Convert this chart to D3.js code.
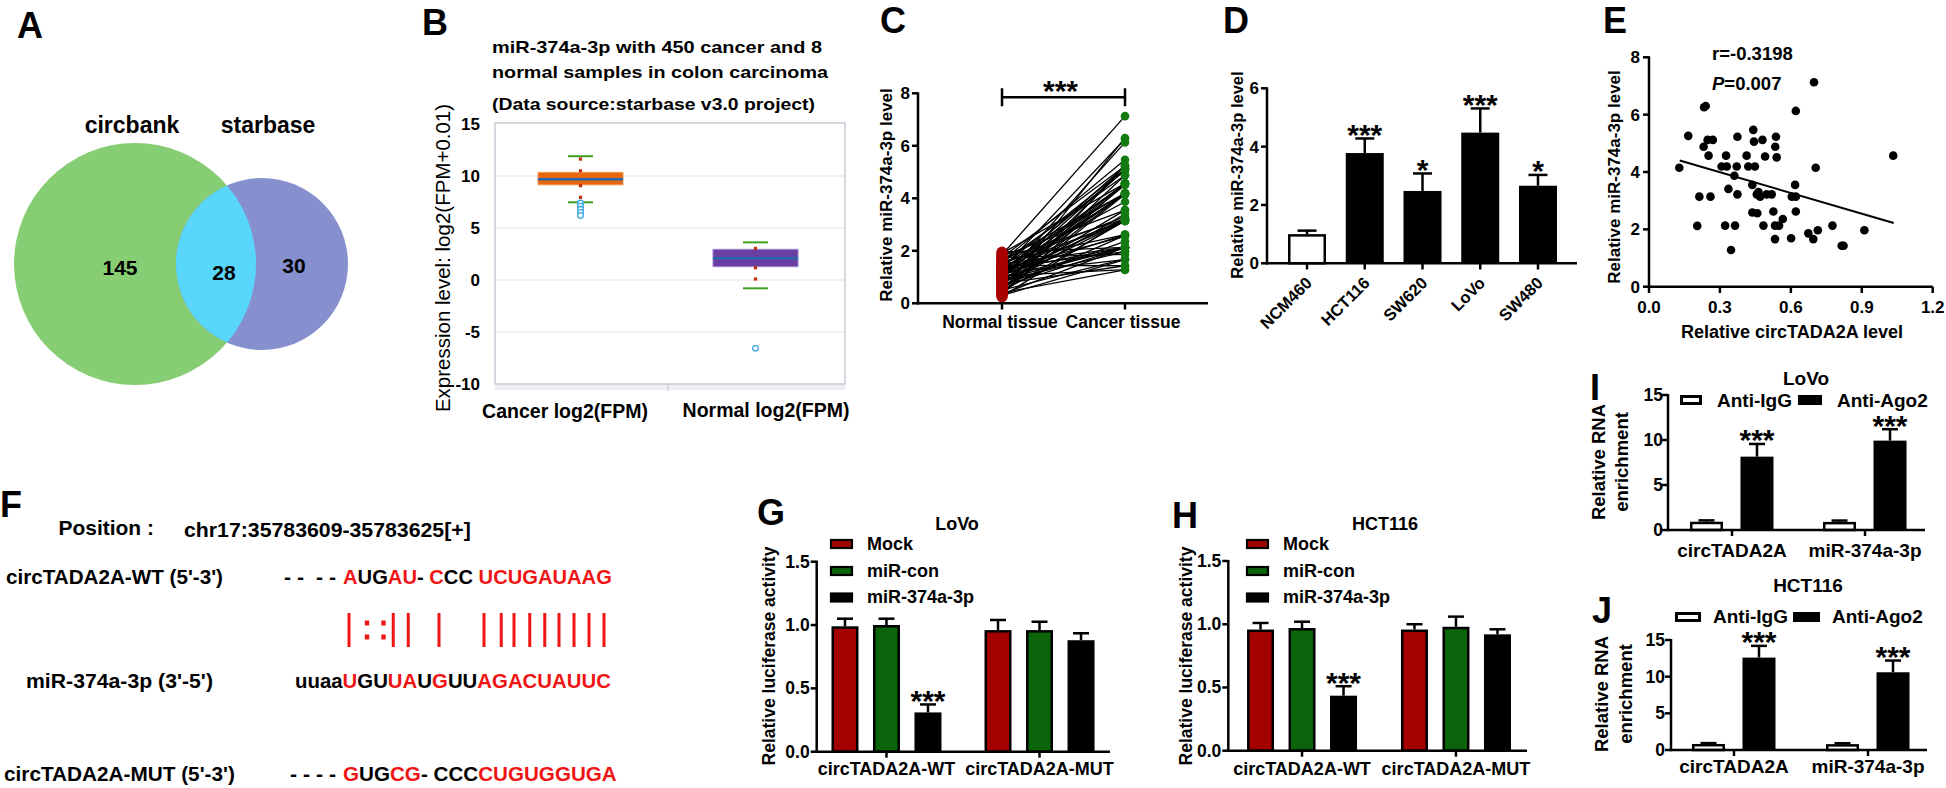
<!DOCTYPE html>
<html><head><meta charset="utf-8">
<script src="https://cdn.jsdelivr.net/npm/d3@7/dist/d3.min.js"></script>
<style>
html,body{margin:0;padding:0;background:#fff;}
svg text{font-family:"Liberation Sans",Arial,Helvetica,sans-serif;}
</style></head><body>
<svg id="fig" width="1946" height="788" xmlns="http://www.w3.org/2000/svg"></svg>
<script>
// ================= DATA =================
// A: Venn diagram
const vennSetNames = ["circbank", "starbase"];
const vennRegionCounts = [145, 28, 30]; // circbank only, overlap, starbase only

// B: starbase box plot
const boxCategories = ["Cancer log2(FPM)", "Normal log2(FPM)"];
const boxQ1 = [9.15, 1.28];
const boxMedian = [9.68, 2.08];
const boxQ3 = [10.35, 2.95];
const boxWhiskerLow = [7.47, -0.8];
const boxWhiskerHigh = [11.9, 3.62];
const boxMarkers = [[11.63, 10.5, 9.07, 7.95], [3.04, 1.18, 0.1]];
const boxOutliers = [[7.4, 7.1, 6.8, 6.5, 6.2], [-6.57]];
const boxYTicks = [15, 10, 5, 0, -5, -10];
const boxTitle = ["miR-374a-3p  with 450 cancer and 8", "normal samples in colon carcinoma", "(Data source:starbase v3.0 project)"];

// C: paired tissue
const tissueCategories = ["Normal tissue", "Cancer tissue"];
const pairedNormal = [1.85,0.45,1.30,0.90,1.60,0.30,1.10,1.75,0.65,1.40,0.95,1.20,0.50,1.55,0.80,1.05,1.90,0.35,1.25,0.70,1.45,1.00,0.55,1.65,0.85,1.15,0.40,1.35,0.75,1.80,0.60,1.50,0.95,1.20,0.25,1.70,1.05,0.45,1.40,0.80,1.10,1.60,0.55,1.30,0.70,1.95,0.90,1.25,0.35,1.50,1.00,0.65,1.35,0.85,1.75,0.50,1.15,0.30,1.45,0.75,1.05,0.40];
const pairedCancer = [7.13,6.30,6.26,6.13,5.47,5.26,5.23,5.23,5.12,5.12,5.12,5.06,4.88,4.88,4.57,4.57,4.57,4.57,4.54,4.51,4.19,4.19,4.19,4.19,4.19,4.15,4.15,3.87,3.55,3.55,3.41,3.30,3.22,3.22,3.22,3.22,3.14,3.14,3.14,3.14,2.62,2.62,2.59,2.56,2.36,2.13,2.13,2.13,2.13,2.13,2.13,2.12,1.97,1.97,1.86,1.69,1.66,1.66,1.43,1.43,1.28,1.27];
const tissueYTicks = [0, 2, 4, 6, 8];
const tissueSigLevel = 7.85;

// D: cell lines
const cellLines = ["NCM460", "HCT116", "SW620", "LoVo", "SW480"];
const cellMeans = [1.0, 3.78, 2.48, 4.48, 2.66];
const cellErr = [0.12, 0.5, 0.6, 0.83, 0.37];
const cellSig = ["", "***", "*", "***", "*"];
const cellYTicks = [0, 2, 4, 6];

// E: correlation
const corrX = [0.128,0.166,0.213,0.204,0.233,0.240,0.231,0.248,0.270,0.252,0.260,0.307,0.326,0.329,0.322,0.336,0.361,0.371,0.374,0.374,0.364,0.347,0.413,0.420,0.441,0.444,0.448,0.437,0.437,0.458,0.480,0.456,0.470,0.463,0.484,0.491,0.498,0.519,0.537,0.534,0.540,0.526,0.533,0.550,0.533,0.566,0.604,0.618,0.621,0.621,0.621,0.601,0.674,0.695,0.714,0.705,0.698,0.776,0.815,0.823,0.911,1.033];
const corrY = [4.15,5.26,3.14,2.12,6.26,6.30,4.88,5.12,5.12,4.57,3.14,4.19,4.57,4.19,2.13,3.41,3.87,4.19,5.23,3.22,2.13,1.28,4.57,4.19,5.47,5.06,4.19,3.55,2.59,2.56,5.12,3.22,3.14,3.30,2.13,4.54,3.22,3.22,5.23,4.88,4.51,2.62,2.13,2.13,1.66,2.36,3.14,3.55,3.14,6.13,2.62,1.69,1.86,1.66,1.97,4.15,7.13,2.13,1.43,1.43,1.97,4.57];
const corrLineX = [0.13, 1.035];
const corrLineY = [4.40, 2.22];
const corrXTicks = [0, 0.3, 0.6, 0.9, 1.2];
const corrYTicks = [0, 2, 4, 6, 8];

// F: sequences
const wtSeq = [["A","r"],["UG","k"],["AU","r"],["- ","k"],["C","r"],["CC","k"],[" UCUGAUAAG","r"]];
const mirSeq = [["uuaa","k"],["U","r"],["GU","k"],["UA","r"],["U","k"],["G","r"],["UU","k"],["AGACUAUUC","r"]];
const mutSeq = [["G","r"],["UG","k"],["CG","r"],["- CCC","k"],["CUGUGGUGA","r"]];
const pairTypes = ["|",":",":","|","|","|","|","|","|","|","|","|","|","|","|"];
const pairSlots = [0,1.2,2.3,2.95,3.95,6,9,10.15,11,12.05,13.05,14,15,16,17];

// G/H: luciferase
const lucGroups = ["circTADA2A-WT", "circTADA2A-MUT"];
const lucSeries = ["Mock", "miR-con", "miR-374a-3p"];
const lucYTicks = [0, 0.5, 1.0, 1.5];
const lovoLuc = [[0.99, 1.0, 0.31], [0.96, 0.96, 0.88]];
const lovoLucErr = [[0.06, 0.05, 0.063], [0.08, 0.066, 0.055]];
const hctLuc = [[0.958, 0.97, 0.435], [0.958, 0.98, 0.92]];
const hctLucErr = [[0.052, 0.05, 0.075], [0.042, 0.08, 0.04]];

// I/J: RIP
const ripGroups = ["circTADA2A", "miR-374a-3p"];
const ripSeries = ["Anti-IgG", "Anti-Ago2"];
const ripYTicks = [0, 5, 10, 15];
const lovoRip = [[0.92, 8.15], [0.9, 9.93]];
const lovoRipErr = [[0.15, 1.41], [0.15, 1.27]];
const hctRip = [[0.82, 12.6], [0.8, 10.6]];
const hctRipErr = [[0.12, 1.6], [0.12, 1.6]];

// ================= DRAWING =================
const svg = d3.select("#fig");
svg.append("rect").attr("width", 1946).attr("height", 788).attr("fill", "#fff");
const RED = "#f01515";
const AX = 2.5;

function T(g, x, y, str, o = {}) {
  const t = g.append("text").attr("x", x).attr("y", y).text(str)
    .attr("font-size", o.size || 17).attr("font-weight", o.weight || "bold")
    .attr("text-anchor", o.anchor || "start").attr("fill", o.fill || "#000");
  if (o.rotate != null) t.attr("transform", `rotate(${o.rotate},${x},${y})`);
  if (o.len) t.attr("textLength", o.len).attr("lengthAdjust", "spacingAndGlyphs");
  return t;
}
function L(g, x1, y1, x2, y2, w = AX, c = "#000") {
  return g.append("line").attr("x1", x1).attr("y1", y1).attr("x2", x2).attr("y2", y2)
    .attr("stroke", c).attr("stroke-width", w);
}
function stars(g, x, yTop, s) {
  if (!s) return;
  T(g, x, yTop + 6.5, s, { size: 30, anchor: "middle" });
}

// panel letters
[["A",17,38],["B",422,35],["C",880,33],["D",1223,33],["E",1603,33],["F",0,517],["G",757,525],["H",1172,528],["I",1590,400],["J",1592,623]]
  .forEach(([s, x, y]) => T(svg, x, y, s, { size: 36 }));

// ---------- A ----------
(function () {
  const g = svg.append("g");
  const c1 = { x: 135, y: 264, r: 121 }, c2 = { x: 262, y: 264, r: 86 };
  g.append("circle").attr("cx", c1.x).attr("cy", c1.y).attr("r", c1.r).attr("fill", "#87cd73");
  g.append("circle").attr("cx", c2.x).attr("cy", c2.y).attr("r", c2.r).attr("fill", "#8790cf");
  svg.append("defs").append("clipPath").attr("id", "clipA").append("circle")
    .attr("cx", c1.x).attr("cy", c1.y).attr("r", c1.r);
  g.append("circle").attr("cx", c2.x).attr("cy", c2.y).attr("r", c2.r).attr("fill", "#59d6fc").attr("clip-path", "url(#clipA)");
  T(g, 132, 133, vennSetNames[0], { size: 23, anchor: "middle" });
  T(g, 268, 133, vennSetNames[1], { size: 23, anchor: "middle" });
  T(g, 120, 275, vennRegionCounts[0], { size: 21, anchor: "middle" });
  T(g, 224, 280, vennRegionCounts[1], { size: 21, anchor: "middle" });
  T(g, 294, 273, vennRegionCounts[2], { size: 21, anchor: "middle" });
})();

// ---------- B ----------
(function () {
  const g = svg.append("g");
  const y = d3.scaleLinear().domain([-10, 15]).range([384, 124]);
  const x = d3.scalePoint().domain(boxCategories).range([495, 845]).padding(0.5);
  g.append("rect").attr("x", 495).attr("y", 384).attr("width", 350).attr("height", 6).attr("fill", "#eceef3");
  boxYTicks.forEach(t => { if (t < 15 && t > -10) L(g, 495, y(t), 845, y(t), 1.2, "#e2e2e2"); });
  g.append("rect").attr("x", 495).attr("y", 123).attr("width", 350).attr("height", 261)
    .attr("fill", "none").attr("stroke", "#c8ccd6").attr("stroke-width", 1.5);
  L(g, 668, 384, 668, 391, 1.2, "#c8ccd6");
  boxYTicks.forEach(t => T(g, 480, y(t) + 6, t, { size: 17, anchor: "end" }));
  const cols = [["#e8660c", "#f39a55"], ["#6b3fa2", "#9d84d4"]];
  boxCategories.forEach((c, i) => {
    const cx = x(c) - 2;
    g.append("rect").attr("x", cx - 42.5).attr("y", y(boxQ3[i])).attr("width", 85)
      .attr("height", y(boxQ1[i]) - y(boxQ3[i])).attr("fill", cols[i][0]).attr("stroke", cols[i][1]).attr("stroke-width", 1);
    L(g, cx - 42.5, y(boxMedian[i]), cx + 42.5, y(boxMedian[i]), 2.5, "#2568b0");
    [boxWhiskerLow[i], boxWhiskerHigh[i]].forEach(v => L(g, cx - 12.5, y(v), cx + 12.5, y(v), 2, "#3f9f20"));
    boxMarkers[i].forEach(v => g.append("rect").attr("x", cx - 1.6).attr("y", y(v) - 1.6).attr("width", 3.2).attr("height", 3.2).attr("fill", "#c0300c"));
    boxOutliers[i].forEach(v => g.append("circle").attr("cx", cx).attr("cy", y(v)).attr("r", 2.8)
      .attr("fill", "#fff").attr("stroke", "#3aa6e2").attr("stroke-width", 1.3));
  });
  T(g, 565, 418, boxCategories[0], { size: 19.5, anchor: "middle" });
  T(g, 766, 417, boxCategories[1], { size: 19.5, anchor: "middle" });
  const tl = [330, 336, 323], ty = [53, 78, 110];
  boxTitle.forEach((s, i) => T(g, 492, ty[i], s, { size: 17, len: tl[i] }));
  T(g, 450, 258, "Expression level: log2(FPM+0.01)", { size: 20.5, weight: "normal", anchor: "middle", rotate: -90 });
})();

// ---------- C ----------
(function () {
  const g = svg.append("g");
  const y = d3.scaleLinear().domain([0, 8]).range([303.3, 93.3]);
  const x = d3.scalePoint().domain(tissueCategories).range([918, 1209]).padding(0.683);
  pairedNormal.forEach((v, i) => L(g, x(tissueCategories[0]), y(v), x(tissueCategories[1]), y(pairedCancer[i]), 1.3));
  pairedNormal.forEach(v => g.append("circle").attr("cx", x(tissueCategories[0])).attr("cy", y(v)).attr("r", 5.6).attr("fill", "#a80000"));
  pairedCancer.forEach(v => g.append("circle").attr("cx", x(tissueCategories[1])).attr("cy", y(v)).attr("r", 4.3).attr("fill", "#137a13"));
  L(g, 918, y(8) - 1, 918, 303.3 + 1.25);
  L(g, 918, 303.3, 1208, 303.3);
  tissueYTicks.forEach(t => { L(g, 912, y(t), 918, y(t)); T(g, 910, y(t) + 6, t, { size: 17, anchor: "end" }); });
  tissueCategories.forEach(c => { L(g, x(c), 303.3, x(c), 309.5); T(g, x(c) - 2, 328, c, { size: 17.5, anchor: "middle" }); });
  const yb = y(tissueSigLevel);
  L(g, x(tissueCategories[0]), yb, x(tissueCategories[1]), yb);
  L(g, x(tissueCategories[0]), yb - 9, x(tissueCategories[0]), yb + 9);
  L(g, x(tissueCategories[1]), yb - 9, x(tissueCategories[1]), yb + 9);
  T(g, (x(tissueCategories[0]) + x(tissueCategories[1])) / 2 - 3, yb + 4, "***", { size: 30, anchor: "middle" });
  T(g, 892, 195, "Relative miR-374a-3p level", { size: 17, anchor: "middle", rotate: -90 });
})();

// ---------- D ----------
(function () {
  const g = svg.append("g");
  const y = d3.scaleLinear().domain([0, 6]).range([263.3, 88.3]);
  const x = d3.scalePoint().domain(cellLines).range([1267, 1578]).padding(0.693);
  const bw = 38;
  cellLines.forEach((c, i) => {
    const cx = x(c), top = y(cellMeans[i]), et = y(cellMeans[i] + cellErr[i]);
    L(g, cx, top, cx, et);
    L(g, cx - 9.5, et, cx + 9.5, et);
    if (i === 0) g.append("rect").attr("x", cx - bw / 2 + 1.25).attr("y", top + 1.25).attr("width", bw - 2.5).attr("height", 263.3 - top - 1.25)
      .attr("fill", "#fff").attr("stroke", "#000").attr("stroke-width", 2.5);
    else g.append("rect").attr("x", cx - bw / 2).attr("y", top).attr("width", bw).attr("height", 263.3 - top).attr("fill", "#000");
    stars(g, cx, et, cellSig[i]);
  });
  L(g, 1267, y(6) - 1, 1267, 263.3 + 1.25);
  L(g, 1267, 263.3, 1577, 263.3);
  cellYTicks.forEach(t => { L(g, 1261, y(t), 1267, y(t)); T(g, 1259, y(t) + 6, t, { size: 17, anchor: "end" }); });
  cellLines.forEach(c => { L(g, x(c), 263.3, x(c), 269.5); T(g, x(c) + 6, 284, c, { size: 16.5, anchor: "end", rotate: -45 }); });
  T(g, 1243, 175, "Relative miR-374a-3p level", { size: 16.5, anchor: "middle", rotate: -90 });
})();

// ---------- E ----------
(function () {
  const g = svg.append("g");
  const x = d3.scaleLinear().domain([0, 1.2]).range([1649, 1932.7]);
  const y = d3.scaleLinear().domain([0, 8]).range([286.7, 57.3]);
  corrX.forEach((v, i) => g.append("circle").attr("cx", x(v)).attr("cy", y(corrY[i])).attr("r", 4.3).attr("fill", "#000"));
  L(g, x(corrLineX[0]), y(corrLineY[0]), x(corrLineX[1]), y(corrLineY[1]), 2);
  L(g, 1649, y(8) - 1, 1649, 286.7 + 1.25);
  L(g, 1649 - 1.25, 286.7, 1932.7, 286.7);
  corrYTicks.forEach(t => { L(g, 1643, y(t), 1649, y(t)); T(g, 1640, y(t) + 6, t, { size: 17, anchor: "end" }); });
  corrXTicks.forEach(t => { L(g, x(t), 286.7, x(t), 293); T(g, x(t), 313, d3.format(".1f")(t), { size: 17, anchor: "middle" }); });
  T(g, 1712, 60, "r=-0.3198", { size: 18.5 });
  const p = T(g, 1712, 90, "", { size: 18.5 });
  p.append("tspan").attr("font-style", "italic").text("P");
  p.append("tspan").text("=0.007");
  T(g, 1792, 338, "Relative circTADA2A level", { size: 18, anchor: "middle" });
  T(g, 1620, 177, "Relative miR-374a-3p level", { size: 17, anchor: "middle", rotate: -90 });
})();

// ---------- F ----------
(function () {
  const g = svg.append("g");
  function row(segs, x0, x1, y, size) {
    const gg = g.append("g");
    const t = gg.append("text").attr("font-size", size).attr("font-weight", "bold").style("white-space", "pre");
    segs.forEach(([s, c]) => t.append("tspan").text(s).attr("fill", c === "r" ? RED : "#000"));
    const len = t.node().getComputedTextLength();
    gg.attr("transform", `translate(${x0},${y}) scale(${(x1 - x0) / len},1)`);
  }
  const fs = 21;
  row([["Position :", "k"]], 58.5, 154, 535, fs);
  row([["chr17:35783609-35783625[+]", "k"]], 184, 471, 537, fs);
  row([["circTADA2A-WT (5'-3')", "k"]], 6, 223, 584, fs);
  row([["- -  - -", "k"]], 284, 336, 584, fs);
  row(wtSeq, 343, 612, 584, fs);
  row([["miR-374a-3p (3'-5')", "k"]], 26, 213, 688, fs);
  row(mirSeq, 295, 611, 688, fs);
  row([["circTADA2A-MUT (5'-3')", "k"]], 4, 235, 781, fs);
  row([["- - - -", "k"]], 290, 336, 781, fs);
  row(mutSeq, 343, 617, 781, fs);
  const px = d3.scaleLinear().domain([0, 17]).range([349, 604]);
  pairTypes.forEach((t, i) => {
    const cx = px(pairSlots[i]);
    if (t === "|") g.append("rect").attr("x", cx - 1.5).attr("y", 613).attr("width", 3).attr("height", 34).attr("fill", RED);
    else [623, 637].forEach(yy => g.append("rect").attr("x", cx - 2.2).attr("y", yy - 2.5).attr("width", 4.4).attr("height", 5).attr("fill", RED));
  });
})();

// ---------- G / H ----------
function drawLuc(cfg) {
  const g = svg.append("g");
  const y = d3.scaleLinear().domain([0, 1.5]).range([cfg.y0, cfg.y15]);
  const x = d3.scalePoint().domain(lucGroups).range([cfg.x0, cfg.xr]).padding(cfg.pad);
  const off = d3.scalePoint().domain(lucSeries).range([-41.5, 41.5]);
  const fills = ["#a50000", "#0a640a", "#000"];
  const bw = 27;
  lucGroups.forEach((grp, gi) => lucSeries.forEach((s, si) => {
    const v = cfg.vals[gi][si], e = cfg.errs[gi][si];
    const cx = x(grp) + off(s), top = y(v), et = y(v + e);
    L(g, cx, top, cx, et);
    L(g, cx - 8, et, cx + 8, et);
    g.append("rect").attr("x", cx - bw / 2 + 1.25).attr("y", top + 1.25).attr("width", bw - 2.5).attr("height", cfg.y0 - top - 1.25)
      .attr("fill", fills[si]).attr("stroke", "#000").attr("stroke-width", 2.5);
    if (gi === 0 && si === 2) stars(g, cx, et, "***");
  }));
  L(g, cfg.x0, cfg.y15 - 1, cfg.x0, cfg.y0 + 1.25);
  L(g, cfg.x0, cfg.y0, cfg.x1, cfg.y0);
  lucYTicks.forEach(t => { L(g, cfg.x0 - 6, y(t), cfg.x0, y(t)); T(g, cfg.x0 - 7, y(t) + 6, d3.format(".1f")(t), { size: 17.5, anchor: "end" }); });
  lucGroups.forEach(grp => { L(g, x(grp), cfg.y0, x(grp), cfg.y0 + 6); T(g, x(grp), 775, grp, { size: 18, anchor: "middle" }); });
  T(g, cfg.titleX, 530, cfg.title, { size: 18, anchor: "middle" });
  const ly = [544, 571, 597.5], lty = [550, 577, 603];
  lucSeries.forEach((s, i) => {
    g.append("rect").attr("x", cfg.legX + 1).attr("y", ly[i] - 4).attr("width", 21).attr("height", 8)
      .attr("fill", fills[i]).attr("stroke", "#000").attr("stroke-width", 2.2);
    T(g, cfg.legX + 37, lty[i], s, { size: 18 });
  });
  T(g, cfg.ylabX, 656, "Relative luciferase activity", { size: 17.5, anchor: "middle", rotate: -90 });
}
drawLuc({ x0: 816.7, x1: 1110, xr: 1109.3, pad: 0.456, y0: 751.7, y15: 561.7, vals: lovoLuc, errs: lovoLucErr, title: "LoVo", titleX: 957, legX: 830, ylabX: 775 });
drawLuc({ x0: 1228.3, x1: 1527, xr: 1529.7, pad: 0.479, y0: 750.7, y15: 561, vals: hctLuc, errs: hctLucErr, title: "HCT116", titleX: 1385, legX: 1246, ylabX: 1192 });

// ---------- I / J ----------
function drawRip(cfg) {
  const g = svg.append("g");
  const y = d3.scaleLinear().domain([0, 15]).range([cfg.y0, cfg.y15]);
  const x = d3.scalePoint().domain(ripGroups).range([cfg.x0, cfg.xr]).padding(cfg.pad);
  const off = d3.scalePoint().domain(ripSeries).range([-25.5, 25]);
  const bw = 33;
  ripGroups.forEach((grp, gi) => ripSeries.forEach((s, si) => {
    const v = cfg.vals[gi][si], e = cfg.errs[gi][si];
    const cx = x(grp) + off(s), top = y(v), et = y(v + e);
    L(g, cx, top, cx, et);
    L(g, cx - 8, et, cx + 8, et);
    if (si === 0) g.append("rect").attr("x", cx - bw / 2 + 1.25).attr("y", top + 1.25).attr("width", bw - 2.5).attr("height", Math.max(cfg.y0 - top - 1.25, 1))
      .attr("fill", "#fff").attr("stroke", "#000").attr("stroke-width", 2.5);
    else { g.append("rect").attr("x", cx - bw / 2).attr("y", top).attr("width", bw).attr("height", cfg.y0 - top).attr("fill", "#000"); stars(g, cx, et, "***"); }
  }));
  L(g, cfg.x0, cfg.y15 - 1, cfg.x0, cfg.y0 + 1.25);
  L(g, cfg.x0, cfg.y0, cfg.x1, cfg.y0);
  ripYTicks.forEach(t => { L(g, cfg.x0 - 6, y(t), cfg.x0, y(t)); T(g, cfg.tickR, y(t) + 6, t, { size: 17.5, anchor: "end" }); });
  ripGroups.forEach(grp => { L(g, x(grp), cfg.y0, x(grp), cfg.y0 + 6); T(g, x(grp), cfg.labY, grp, { size: 19, anchor: "middle" }); });
  T(g, cfg.titleX, cfg.titleY, cfg.title, { size: 19, anchor: "middle" });
  g.append("rect").attr("x", cfg.leg1[0] + 1.5).attr("y", cfg.legY + 1.5).attr("width", cfg.leg1[1] - 3).attr("height", 7)
    .attr("fill", "#fff").attr("stroke", "#000").attr("stroke-width", 3);
  T(g, cfg.leg1[2], cfg.legTY, ripSeries[0], { size: 19 });
  g.append("rect").attr("x", cfg.leg2[0]).attr("y", cfg.legY).attr("width", cfg.leg2[1]).attr("height", 10).attr("fill", "#000");
  T(g, cfg.leg2[2], cfg.legTY, ripSeries[1], { size: 19 });
  T(g, cfg.ylab[0], cfg.ylabY, "Relative RNA", { size: 18.5, anchor: "middle", rotate: -90 });
  T(g, cfg.ylab[1], cfg.ylabY, "enrichment", { size: 18.5, anchor: "middle", rotate: -90 });
}
drawRip({ x0: 1668, x1: 1925, xr: 1929, pad: 0.481, y0: 530, y15: 395, vals: lovoRip, errs: lovoRipErr, title: "LoVo", titleX: 1806, titleY: 385,
  legY: 395, legTY: 407, leg1: [1680, 22, 1717], leg2: [1798, 24, 1837], labY: 557, tickR: 1663, ylab: [1605, 1628], ylabY: 462 });
drawRip({ x0: 1671, x1: 1927, xr: 1931, pad: 0.47, y0: 750, y15: 640, vals: hctRip, errs: hctRipErr, title: "HCT116", titleX: 1808, titleY: 592,
  legY: 612, legTY: 623, leg1: [1675, 26, 1713], leg2: [1793, 27, 1832], labY: 773, tickR: 1665, ylab: [1608, 1632], ylabY: 694 });
</script>
</body></html>
